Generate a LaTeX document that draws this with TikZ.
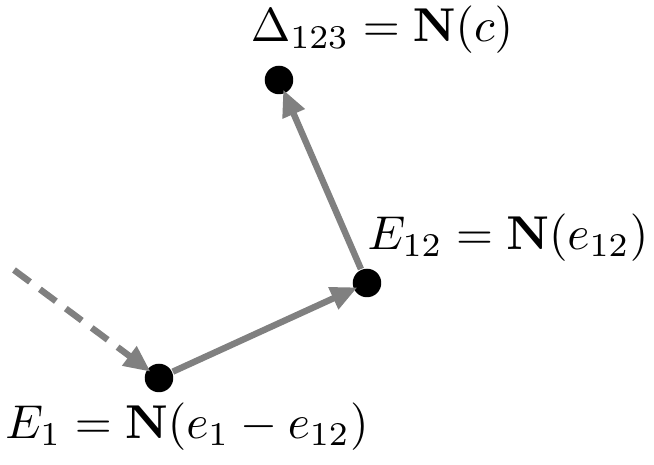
\documentclass[tikz,border=0pt]{standalone}
\usepackage{amsmath}
\usepackage{tikz}
\usetikzlibrary{arrows.meta,positioning}
\tikzset{
    >={Triangle[length=5.6pt,width=4.8pt]},
    dot/.style={
      circle,
      fill=black,
      inner sep=0pt,
      minimum size=6pt},
    link/.style={draw=gray, line width=1.35pt, ->, shorten >=-1pt},
    dashlink/.style={link, dash pattern=on 4.2pt off 2.6pt},
    lbl/.style={inner sep=0pt},
}
\begin{document}
\begin{tikzpicture}
      [x=0.74cm, y=0.74cm]
      \useasboundingbox (0,0) rectangle (6.54,4.65);
      \node[dot] (delta) at (2.79,3.85) {};
      \node[dot] (e12)   at (3.67,1.82) {};
      \node[dot] (e1)    at (1.59,0.87) {};
      \coordinate (in) at (0.14,1.95);
      \node[lbl] (deltaLbl) at (3.82,4.35) {$\Delta_{123}=\mathbf{N}(c)$};
      \node[lbl] (e12Lbl)   at (5.08,2.27) {$E_{12}=\mathbf{N}(e_{12})$};
      \node[lbl] (e1Lbl)    at (1.87,0.38) {$E_1=\mathbf{N}(e_1-e_{12})$};
      \path[dashlink] (in) -- (e1);
      \path[link] (e1) -- (e12);
      \path[link] (e12) -- (delta);
\end{tikzpicture}
\end{document}
